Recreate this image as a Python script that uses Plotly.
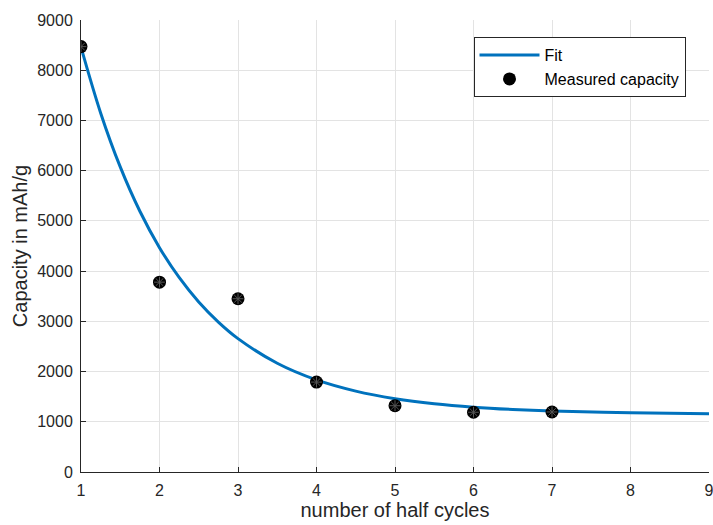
import plotly.graph_objects as go

# Measured capacity per half cycle
half_cycles = [1, 2, 3, 4, 5, 6, 7]
capacity = [8470, 3780, 3450, 1790, 1320, 1190, 1195]

# Exponential fit curve, sampled along the cycle axis
fit_x = [1, 1.25, 1.5, 1.75, 2, 2.25, 2.5, 2.75, 3, 3.5, 4, 4.5, 5, 5.5, 6, 6.5, 7, 8, 9]
fit_y = [8460, 7150, 6075, 5192, 4467, 3873, 3385, 2985, 2656, 2165, 1833, 1610, 1460,
         1359, 1291, 1245, 1214, 1179, 1160]

x_ticks = [1, 2, 3, 4, 5, 6, 7, 8, 9]
y_ticks = [0, 1000, 2000, 3000, 4000, 5000, 6000, 7000, 8000, 9000]

font_family = "Liberation Sans, Arial, sans-serif"
text_color = "#262626"

fig = go.Figure()
fig.add_trace(go.Scatter(
    x=fit_x, y=fit_y, mode="lines", name="Fit",
    line=dict(color="#0072BD", width=3, shape="spline"),
))
fig.add_trace(go.Scatter(
    x=half_cycles, y=capacity, mode="markers", name="Measured capacity",
    marker=dict(symbol="circle", size=13, color="black", line=dict(width=0)),
))
fig.add_trace(go.Scatter(
    x=half_cycles, y=capacity, mode="markers", showlegend=False, hoverinfo="skip",
    marker=dict(symbol="asterisk-open", size=9, color="#555555", line=dict(width=1, color="#555555")),
))

axis_common = dict(
    showgrid=True, gridcolor="#e3e3e3", gridwidth=1,
    showline=True, linecolor=text_color, linewidth=1,
    ticks="inside", ticklen=5, tickcolor=text_color, tickwidth=1,
    tickfont=dict(family=font_family, size=16, color=text_color),
    zeroline=False, mirror=False, ticklabeloverflow="allow", automargin=False,
)

fig.update_xaxes(
    range=[1, 9], tickvals=x_ticks, ticklabelstandoff=4,
    title=dict(text="number of half cycles", font=dict(family=font_family, size=20, color=text_color), standoff=2),
    **axis_common,
)
fig.update_yaxes(
    range=[0, 9000], tickvals=y_ticks, ticklabelstandoff=4,
    title=dict(text="Capacity in mAh/g", font=dict(family=font_family, size=20, color=text_color), standoff=4),
    **axis_common,
)

fig.update_layout(
    width=713, height=525,
    margin=dict(l=81, r=4, t=20, b=53),
    plot_bgcolor="white", paper_bgcolor="white",
    font=dict(family=font_family, color=text_color),
    legend=dict(
        x=0.625, y=0.962, xanchor="left", yanchor="top",
        bgcolor="white", bordercolor=text_color, borderwidth=1,
        font=dict(family=font_family, size=16, color="black"),
        itemwidth=60, tracegroupgap=0,
    ),
)

fig.write_html("out.html")
